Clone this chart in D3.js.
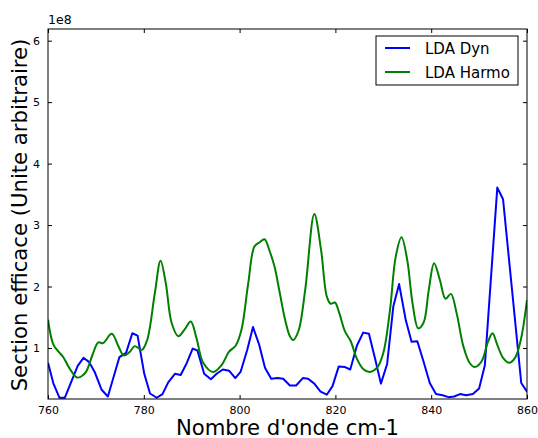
<!DOCTYPE html>
<html><head><meta charset="utf-8">
<script src="https://cdn.jsdelivr.net/npm/d3@7"></script>
<style>body{margin:0;background:#fff}svg{display:block}text{font-family:"DejaVu Sans",sans-serif}</style>
</head><body><svg id="c" width="538" height="438"></svg>
<script>
// LDA Dyn (blue) wavenumber / value (x1e8)
const dynX = [760,761.1,762.4,763.5,766.2,767.4,768.6,769.8,771.2,772.5,774.9,776.3,777.6,778.7,780.1,781.3,782.7,783.9,785.1,786.5,787.7,789.0,790.2,791.2,792.6,794.0,795.2,796.5,797.8,799.1,800.2,801.6,802.8,804.1,805.3,806.6,807.9,809.1,810.5,811.8,813.2,814.3,815.6,816.9,818.2,819.4,820.7,822.0,823.1,824.5,825.8,827.0,828.3,829.5,830.8,832.1,833.3,834.7,835.9,837.1,838.4,839.7,841.0,842.4,843.6,844.8,846.0,847.3,848.7,850.0,851.2,853.8,855.0,858.8,860];
const dynY = [0.76,0.43,0.19,0.19,0.71,0.84,0.77,0.60,0.32,0.21,0.85,0.92,1.24,1.20,0.58,0.26,0.19,0.25,0.44,0.58,0.56,0.76,0.99,0.96,0.58,0.49,0.58,0.65,0.63,0.51,0.61,0.97,1.34,1.05,0.68,0.50,0.51,0.50,0.39,0.39,0.51,0.50,0.42,0.29,0.24,0.38,0.70,0.69,0.65,1.04,1.25,1.23,0.82,0.42,0.74,1.68,2.04,1.45,1.10,1.11,0.78,0.43,0.25,0.23,0.20,0.21,0.25,0.23,0.25,0.34,0.72,3.61,3.42,0.43,0.29];
// LDA Harmo (green)
const harX = [760,761.1,762.2,763.2,764.4,766.0,767.0,768.0,769.3,770.5,771.5,773.3,774.7,775.8,777.1,778.1,779.6,780.7,782.3,783.5,784.6,785.8,787.2,788.5,789.8,791.0,792.4,794.5,796.3,797.8,799.2,800.4,801.8,803.1,804.2,805.2,806.3,807.3,808.4,809.5,810.5,811.2,812.3,813.7,815.6,817.0,818.2,819.0,819.9,820.8,822.0,823.2,824.4,825.8,827.2,828.7,830.0,831.4,832.6,833.8,835.0,836.1,837.3,838.4,839.5,840.6,841.8,843.0,844.1,845.3,846.7,848.0,849.1,850.5,851.9,852.8,853.8,855.0,856.3,857.5,858.7,860];
const harY = [1.46,1.06,0.94,0.85,0.68,0.52,0.54,0.62,0.89,1.09,1.08,1.23,1.03,0.88,0.94,1.03,0.97,1.13,1.89,2.42,2.05,1.41,1.19,1.30,1.43,1.16,0.76,0.61,0.73,0.94,1.04,1.30,2.05,2.65,2.72,2.77,2.57,2.32,1.89,1.46,1.19,1.13,1.28,1.95,3.18,2.60,1.84,1.72,1.74,1.57,1.27,1.11,0.84,0.66,0.61,0.68,0.92,1.62,2.49,2.80,2.43,1.73,1.32,1.41,1.95,2.38,2.11,1.80,1.88,1.57,1.03,0.76,0.69,0.78,1.11,1.24,1.05,0.84,0.76,0.84,1.13,1.78];
const xTicks = [760,780,800,820,840,860];
const yTicks = [1,2,3,4,5,6];
const seriesNames = ["LDA Dyn","LDA Harmo"];
const colors = ["#0000ff","#008000"];

const svg = d3.select("#c");
const L=48,R=527,T=29,B=399;
const x = d3.scaleLinear().domain([760,860]).range([L,R]);
const y = d3.scaleLinear().domain([0.17,6.19]).range([B,T]);

svg.append("clipPath").attr("id","pc").append("rect").attr("x",L).attr("y",T).attr("width",R-L).attr("height",B-T);

const line = d3.line().x(d=>x(d[0])).y(d=>y(d[1]));
const g = svg.append("g").attr("clip-path","url(#pc)");
g.append("path").datum(dynX.map((v,i)=>[v,dynY[i]])).attr("d",line)
 .attr("fill","none").attr("stroke",colors[0]).attr("stroke-width",2).attr("stroke-linejoin","round");
g.append("path").datum(harX.map((v,i)=>[v,harY[i]])).attr("d",line.curve(d3.curveCatmullRom.alpha(0.5)))
 .attr("fill","none").attr("stroke",colors[1]).attr("stroke-width",2);

// axes (inward ticks on all sides)
const tl=4;
const ax = svg.append("g");
ax.append("g").attr("transform",`translate(0,${B})`).call(d3.axisBottom(x).tickValues(xTicks).tickSizeInner(-tl).tickSizeOuter(0).tickPadding(7).tickFormat(d3.format("d")));
ax.append("g").attr("transform",`translate(0,${T})`).call(d3.axisTop(x).tickValues(xTicks).tickSizeInner(-tl).tickSizeOuter(0).tickFormat(""));
ax.append("g").attr("transform",`translate(${L},0)`).call(d3.axisLeft(y).tickValues(yTicks).tickSizeInner(-tl).tickSizeOuter(0).tickPadding(8).tickFormat(d3.format("d")));
ax.append("g").attr("transform",`translate(${R},0)`).call(d3.axisRight(y).tickValues(yTicks).tickSizeInner(-tl).tickSizeOuter(0).tickFormat(""));
ax.selectAll(".domain").remove();
ax.selectAll("text").attr("font-family","DejaVu Sans").attr("font-size",11).attr("fill","#000");
ax.selectAll("line").attr("stroke","#000");
svg.append("rect").attr("x",L).attr("y",T).attr("width",R-L).attr("height",B-T).attr("fill","none").attr("stroke","#000").attr("stroke-width",1);

svg.append("text").attr("x",L).attr("y",T-5).attr("font-size",12.5).text("1e8");
svg.append("text").attr("x",(L+R)/2).attr("y",435).attr("text-anchor","middle").attr("font-size",21.2).text("Nombre d'onde cm-1");
svg.append("text").attr("transform",`translate(27,${(T+B)/2+1}) rotate(-90)`).attr("text-anchor","middle").attr("font-size",21.2).text("Section efficace (Unite arbitraire)");

// legend
const lg = svg.append("g");
lg.append("rect").attr("x",376).attr("y",36).attr("width",142).attr("height",49).attr("fill","#fff").attr("stroke","#000").attr("stroke-width",1);
seriesNames.forEach((n,i)=>{
  const yy = 48+i*24;
  lg.append("line").attr("x1",385).attr("x2",410).attr("y1",yy).attr("y2",yy).attr("stroke",colors[i]).attr("stroke-width",2);
  lg.append("text").attr("x",425).attr("y",yy+5.5).attr("font-size",15).text(n);
});
</script></body></html>
